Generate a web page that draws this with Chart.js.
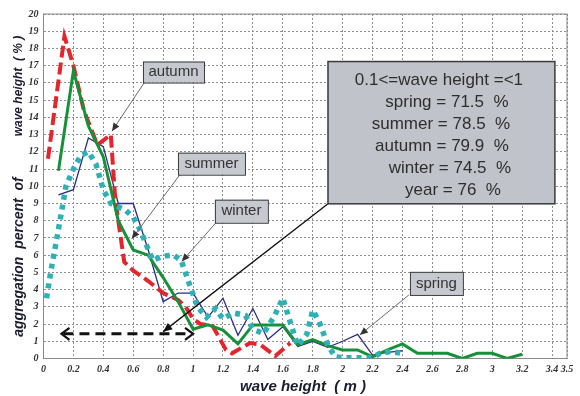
<!DOCTYPE html>
<html>
<head>
<meta charset="utf-8">
<script src="https://cdn.jsdelivr.net/npm/chart.js@4.4.0/dist/chart.umd.min.js"></script>
<style>
  html, body { margin: 0; padding: 0; background: #ffffff; }
  #wrap { width: 580px; height: 396px; }
</style>
</head>
<body>
<div id="wrap"><canvas id="c" width="580" height="396"></canvas></div>
<script>
// Wave height (m) vs aggregation percent (%) per season
const xTicks = [0, 0.2, 0.4, 0.6, 0.8, 1, 1.2, 1.4, 1.6, 1.8, 2, 2.2, 2.4, 2.6, 2.8, 3, 3.2, 3.4, 3.5];
const yTicks = [0, 1, 2, 3, 4, 5, 6, 7, 8, 9, 10, 11, 12, 13, 14, 15, 16, 17, 18, 19, 20];

const springX = [0.1, 0.2, 0.3, 0.4, 0.5, 0.6, 0.7, 0.8, 0.9, 1.0, 1.1, 1.2, 1.3, 1.4, 1.5, 1.6, 1.7, 1.8, 1.9, 2.0, 2.1, 2.2, 2.3, 2.4];
const springY = [9.5, 9.8, 12.8, 12.3, 9.0, 9.0, 6.3, 3.3, 3.8, 3.8, 2.4, 3.5, 1.35, 2.9, 1.1, 1.85, 0.7, 1.0, 0.65, 1.0, 1.4, 0.2, 0.35, 0.45];

const summerX = [0.1, 0.2, 0.3, 0.4, 0.5, 0.6, 0.7, 0.8, 0.9, 1.0, 1.1, 1.2, 1.3, 1.4, 1.5, 1.6, 1.7, 1.8, 1.9, 2.0, 2.1, 2.2, 2.3, 2.4, 2.5, 2.6, 2.7, 2.8, 2.9, 3.0, 3.1, 3.2];
const summerY = [10.9, 16.7, 13.5, 11.7, 8.0, 6.3, 6.0, 4.7, 3.3, 1.7, 1.95, 1.65, 0.85, 1.95, 1.95, 1.95, 0.8, 1.1, 0.75, 0.5, 0.5, 0.1, 0.5, 0.85, 0.3, 0.3, 0.3, 0.0, 0.3, 0.3, 0.0, 0.25];

const autumnX = [0.03, 0.14, 0.2, 0.27, 0.36, 0.45, 0.48, 0.54, 0.6, 0.7, 0.8, 0.9, 0.95, 1.0, 1.05, 1.13, 1.22, 1.26, 1.38, 1.45, 1.55, 1.65];
const autumnY = [11.6, 18.7, 17.0, 14.4, 12.4, 13.0, 9.2, 5.6, 5.1, 4.5, 3.8, 3.4, 3.0, 2.3, 2.0, 1.9, 0.5, 0.3, 0.9, 0.8, 0.15, 0.9];

const winterX = [0.02, 0.05, 0.1, 0.15, 0.2, 0.25, 0.3, 0.35, 0.4, 0.45, 0.55, 0.6, 0.65, 0.73, 0.8, 0.87, 0.92, 0.98, 1.03, 1.09, 1.15, 1.2, 1.27, 1.35, 1.4, 1.47, 1.54, 1.6, 1.65, 1.7, 1.76, 1.8, 1.84, 1.9, 1.95, 2.0, 2.2, 2.25, 2.32, 2.4];
const winterY = [3.5, 5.1, 7.5, 10.0, 11.0, 11.8, 12.0, 11.3, 9.8, 9.0, 8.6, 8.2, 7.4, 5.7, 5.95, 6.0, 5.7, 4.2, 3.0, 2.4, 2.9, 2.3, 2.65, 2.5, 1.7, 1.45, 2.4, 3.5, 2.1, 0.75, 1.4, 2.8, 2.2, 0.8, 0.1, 0.05, 0.05, 0.3, 0.4, 0.3];

// Share of waves between 0.1 m and 1 m
const rangeLow = 0.1;
const rangeHigh = 1;
const statNames = ['spring', 'summer', 'autumn', 'winter', 'year'];
const statValues = [71.5, 78.5, 79.9, 74.5, 76];

const pts = (xs, ys) => xs.map((x, i) => ({ x: x, y: ys[i] }));

const COL = {
  spring: '#2b2d86',
  summer: '#17903a',
  autumn: '#e4252b',
  winter: '#2eb1b4'
};

// Callout boxes (data coordinates) with their arrow tips
const callouts = [
  { text: 'autumn', box: [0.665, 17.24, 1.073, 16.02], tail: [0.678, 16.07], tip: [0.458, 13.2] },
  { text: 'summer', box: [0.899, 11.95, 1.347, 10.67], tail: [0.912, 10.67], tip: [0.59, 6.95] },
  { text: 'winter', box: [1.146, 9.22, 1.5, 7.88], tail: [1.153, 7.88], tip: [0.924, 5.63] },
  { text: 'spring', box: [2.45, 5.03, 2.804, 3.69], tail: [2.443, 3.69], tip: [2.115, 1.37] }
];
const statBox = [1.902, 17.24, 3.419, 8.98];
const statTip = [0.8, 1.56];
const spanY = 1.43;

function arrowHead(ctx, x0, y0, x1, y1, len, half, color) {
  const a = Math.atan2(y1 - y0, x1 - x0);
  ctx.save();
  ctx.fillStyle = color;
  ctx.beginPath();
  ctx.moveTo(x1, y1);
  ctx.lineTo(x1 - len * Math.cos(a) + half * Math.sin(a), y1 - len * Math.sin(a) - half * Math.cos(a));
  ctx.lineTo(x1 - len * Math.cos(a) - half * Math.sin(a), y1 - len * Math.sin(a) + half * Math.cos(a));
  ctx.closePath();
  ctx.fill();
  ctx.restore();
}

const decor = {
  id: 'decor',
  beforeDatasetsDraw(chart) {
    // plot frame
    const { ctx, chartArea: a } = chart;
    ctx.save();
    ctx.strokeStyle = '#8a8a8a';
    ctx.lineWidth = 1;
    ctx.strokeRect(a.left, a.top, a.right - a.left, a.bottom - a.top);
    ctx.restore();
  },
  afterDatasetsDraw(chart) {
    const { ctx } = chart;
    const sx = chart.scales.x, sy = chart.scales.y;
    const X = v => sx.getPixelForValue(v);
    const Y = v => sy.getPixelForValue(v);

    // dashed double arrow marking the 0.1 - 1 m range
    ctx.save();
    const xl = X(rangeLow + 0.02), xr = X(rangeHigh), yy = Y(spanY);
    ctx.strokeStyle = '#111';
    ctx.lineWidth = 3;
    ctx.setLineDash([10, 6]);
    ctx.beginPath();
    ctx.moveTo(xl + 2, yy);
    ctx.lineTo(xr - 2, yy);
    ctx.stroke();
    ctx.setLineDash([]);
    ctx.lineWidth = 2.2;
    ctx.beginPath();
    ctx.moveTo(xl + 8, yy - 6); ctx.lineTo(xl, yy); ctx.lineTo(xl + 8, yy + 6);
    ctx.moveTo(xr - 8, yy - 6); ctx.lineTo(xr, yy); ctx.lineTo(xr - 8, yy + 6);
    ctx.stroke();
    ctx.restore();

    // line from statistics box to the range arrow
    ctx.save();
    const bx0 = X(statBox[0]), by1 = Y(statBox[3]);
    const tx = X(statTip[0]), ty = Y(statTip[1]);
    ctx.strokeStyle = '#111';
    ctx.lineWidth = 1.3;
    ctx.beginPath();
    ctx.moveTo(bx0, by1);
    ctx.lineTo(tx, ty);
    ctx.stroke();
    arrowHead(ctx, bx0, by1, tx, ty, 9, 4, '#111');
    ctx.restore();

    // callout labels
    callouts.forEach(c => {
      const x0 = X(c.box[0]), y0 = Y(c.box[1]), x1 = X(c.box[2]), y1 = Y(c.box[3]);
      const tlx = X(c.tail[0]), tly = Y(c.tail[1]), tpx = X(c.tip[0]), tpy = Y(c.tip[1]);
      ctx.save();
      ctx.strokeStyle = '#6a6a6a';
      ctx.lineWidth = 1;
      ctx.beginPath();
      ctx.moveTo(tlx, tly);
      ctx.lineTo(tpx, tpy);
      ctx.stroke();
      arrowHead(ctx, tlx, tly, tpx, tpy, 8, 3.5, '#333');
      ctx.fillStyle = '#c6c9cf';
      ctx.fillRect(x0, y0, x1 - x0, y1 - y0);
      ctx.strokeStyle = '#3c3c3c';
      ctx.strokeRect(x0 + 0.5, y0 + 0.5, x1 - x0, y1 - y0);
      ctx.fillStyle = '#333';
      ctx.font = '15px "Liberation Sans", Arial, sans-serif';
      ctx.textAlign = 'center';
      ctx.textBaseline = 'middle';
      ctx.fillText(c.text, (x0 + x1) / 2, (y0 + y1) / 2);
      ctx.restore();
    });

    // statistics box
    ctx.save();
    const sx0 = X(statBox[0]), sy0 = Y(statBox[1]), sx1 = X(statBox[2]), sy1 = Y(statBox[3]);
    ctx.fillStyle = '#c0c3ca';
    ctx.fillRect(sx0, sy0, sx1 - sx0, sy1 - sy0);
    ctx.strokeStyle = '#3a3a3a';
    ctx.lineWidth = 1.5;
    ctx.strokeRect(sx0, sy0, sx1 - sx0, sy1 - sy0);
    ctx.fillStyle = '#2e2e2e';
    ctx.font = '17px "Liberation Sans", Arial, sans-serif';
    ctx.textAlign = 'center';
    ctx.textBaseline = 'middle';
    const lines = [rangeLow + '<=wave height =<' + rangeHigh]
      .concat(statNames.map((n, i) => n + ' = ' + statValues[i] + '  %'));
    const shift = [-2.5, 5.5, -0.5, 0.5, 8.5, 11.5];
    const cx = (sx0 + sx1) / 2;
    lines.forEach((t, i) => ctx.fillText(t, cx + shift[i], sy0 + 18.5 + i * 22));
    ctx.restore();

    // axis titles
    ctx.save();
    ctx.fillStyle = '#1c1c30';
    ctx.font = 'italic bold 15px "Liberation Sans", Arial, sans-serif';
    ctx.textAlign = 'center';
    ctx.textBaseline = 'middle';
    ctx.fillText('wave height  ( m )', 303, 387);
    ctx.translate(19, 0);
    ctx.rotate(-Math.PI / 2);
    ctx.font = 'italic bold 14px "Liberation Sans", Arial, sans-serif';
    ctx.fillText('aggregation  percent  of', -257, 0);
    ctx.font = 'italic bold 12px "Liberation Sans", Arial, sans-serif';
    ctx.fillText('wave height  ( % )', -86, 0);
    ctx.restore();
  }
};

const tickFont = { family: '"Liberation Serif", "Times New Roman", serif', size: 10, style: 'italic', weight: 'bold' };

new Chart(document.getElementById('c'), {
  type: 'scatter',
  data: {
    datasets: [
      { label: 'winter', data: pts(winterX, winterY), showLine: true, borderColor: COL.winter, borderWidth: 5.5, borderDash: [5, 5], borderCapStyle: 'butt', pointRadius: 0, tension: 0 },
      { label: 'summer', data: pts(summerX, summerY), showLine: true, borderColor: COL.summer, borderWidth: 3, pointRadius: 0, tension: 0 },
      { label: 'autumn', data: pts(autumnX, autumnY), showLine: true, borderColor: COL.autumn, borderWidth: 4, borderDash: [12, 5], borderCapStyle: 'butt', pointRadius: 0, tension: 0 },
      { label: 'spring', data: pts(springX, springY), showLine: true, borderColor: COL.spring, borderWidth: 1.3, pointRadius: 0, tension: 0 }
    ]
  },
  options: {
    responsive: false,
    animation: false,
    devicePixelRatio: 1,
    layout: { padding: { left: 0, right: 13, top: 14, bottom: 0 } },
    plugins: { legend: { display: false }, tooltip: { enabled: false } },
    scales: {
      x: {
        type: 'linear', min: 0, max: 3.5,
        afterBuildTicks: s => { s.ticks = xTicks.map(v => ({ value: v })); },
        afterFit: s => { s.height = 37.5; },
        ticks: { autoSkip: false, maxRotation: 0, padding: 5, color: '#333', font: tickFont, callback: v => String(v) },
        grid: { color: '#8f8f8f', lineWidth: 1, drawTicks: false },
        border: { display: false, dash: [2, 2] }
      },
      y: {
        type: 'linear', min: 0, max: 20,
        afterBuildTicks: s => { s.ticks = yTicks.map(v => ({ value: v })); },
        afterFit: s => { s.width = 43.5; },
        ticks: { autoSkip: false, padding: 5, color: '#333', font: tickFont, callback: v => String(v) },
        grid: { color: '#8f8f8f', lineWidth: 1, drawTicks: false },
        border: { display: false, dash: [2, 2] }
      }
    }
  },
  plugins: [decor]
});
</script>
</body>
</html>
